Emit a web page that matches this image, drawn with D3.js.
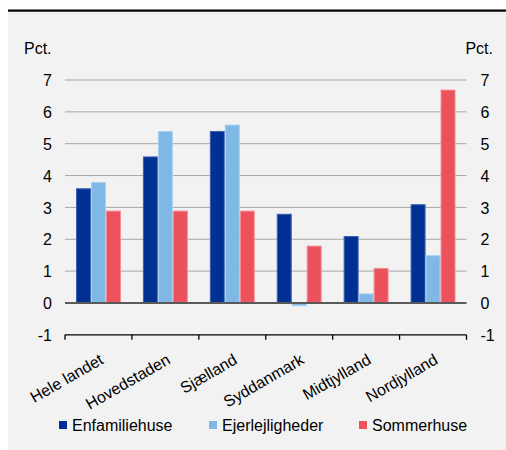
<!DOCTYPE html>
<html>
<head>
<meta charset="utf-8">
<script src="https://cdn.jsdelivr.net/npm/d3@7"></script>
<style>
  html, body { margin: 0; padding: 0; background: #ffffff; }
  svg { display: block; }
  text { font-family: "Liberation Sans", Arial, sans-serif; fill: #000; }
</style>
</head>
<body>
<svg id="chart" width="506" height="450"></svg>
<script>
// Regions and price changes (pct.) per property type
const categories = ["Hele landet", "Hovedstaden", "Sjælland", "Syddanmark", "Midtjylland", "Nordjylland"];
const seriesNames = ["Enfamiliehuse", "Ejerlejligheder", "Sommerhuse"];
const enfamiliehuse = [3.6, 4.6, 5.4, 2.8, 2.1, 3.1];
const ejerlejligheder = [3.8, 5.4, 5.6, -0.1, 0.3, 1.5];
const sommerhuse = [2.9, 2.9, 2.9, 1.8, 1.1, 6.7];
const yTicks = [-1, 0, 1, 2, 3, 4, 5, 6, 7];
const unitLabel = "Pct.";

const colors = ["#003192", "#7fb8e5", "#ec525b"];
const strokes = ["#3d5fb0", "#a9d0ef", "#f48d93"];
const series = [enfamiliehuse, ejerlejligheder, sommerhuse];
const FS = 16;

const svg = d3.select("#chart");

// panel background and top rule
svg.append("rect").attr("x", 8).attr("y", 10).attr("width", 498).attr("height", 440).attr("fill", "#f2f2f2");
svg.append("rect").attr("x", 8).attr("y", 9.5).attr("width", 498).attr("height", 2.2).attr("fill", "#000");

const left = 65, right = 466.5;
const y = d3.scaleLinear().domain([-1, 7]).range([334.8, 80]);
const x0 = d3.scaleBand().domain(categories).range([left, right]).paddingInner(0).paddingOuter(0);
const x1 = d3.scaleBand().domain(d3.range(3)).range([11, x0.bandwidth() - 11]).padding(0);

// gridlines
svg.append("g").selectAll("line")
  .data(yTicks.filter(t => t > 0))
  .join("line")
  .attr("x1", left).attr("x2", right)
  .attr("y1", d => y(d)).attr("y2", d => y(d))
  .attr("stroke", "#a6a6a6").attr("stroke-width", 1);

// left and right axes (labels only)
const fmt = d => String(d);
const yAxisL = d3.axisLeft(y).tickValues(yTicks).tickSize(0).tickPadding(13).tickFormat(fmt);
const gl = svg.append("g").attr("transform", `translate(${left},0)`).call(yAxisL);
gl.select(".domain").remove();
gl.selectAll("text").attr("font-size", FS).attr("font-family", "Liberation Sans, Arial, sans-serif").attr("dy", "0.35em");

const yAxisR = d3.axisRight(y).tickValues(yTicks).tickSize(0).tickPadding(14).tickFormat(fmt);
const gr = svg.append("g").attr("transform", `translate(${right},0)`).call(yAxisR);
gr.select(".domain").remove();
gr.selectAll("text").attr("font-size", FS).attr("font-family", "Liberation Sans, Arial, sans-serif").attr("dy", "0.35em");

svg.append("text").attr("x", 24).attr("y", 54).attr("font-size", FS).text(unitLabel);
svg.append("text").attr("x", 493).attr("y", 54).attr("font-size", FS).attr("text-anchor", "end").text(unitLabel);

// bars
const groups = svg.append("g").selectAll("g")
  .data(categories)
  .join("g")
  .attr("transform", d => `translate(${x0(d)},0)`);

groups.selectAll("rect")
  .data((d, i) => series.map((s, k) => ({ k, v: s[i] })))
  .join("rect")
  .attr("x", d => x1(d.k) + 0.5)
  .attr("width", x1.bandwidth() - 1)
  .attr("y", d => Math.min(y(d.v), y(0)) + 0.5)
  .attr("height", d => Math.max(Math.abs(y(d.v) - y(0)) - 1, 0.5))
  .attr("fill", d => colors[d.k])
  .attr("stroke", d => strokes[d.k])
  .attr("stroke-width", 1);

// zero line
svg.append("line").attr("x1", left).attr("x2", right)
  .attr("y1", y(0)).attr("y2", y(0))
  .attr("stroke", "#595959").attr("stroke-width", 2);

// category axis at the bottom of the value range
const gx = svg.append("g").attr("transform", `translate(0,${y(-1)})`);
gx.append("line").attr("x1", left).attr("x2", right).attr("y1", 0).attr("y2", 0)
  .attr("stroke", "#000").attr("stroke-width", 1.3);
gx.selectAll("line.tick")
  .data(categories.map(c => x0(c)).concat([right]))
  .join("line").attr("class", "tick")
  .attr("x1", d => d).attr("x2", d => d).attr("y1", 0).attr("y2", 5)
  .attr("stroke", "#000").attr("stroke-width", 1.3);

gx.selectAll("text.cat")
  .data(categories)
  .join("text").attr("class", "cat")
  .attr("text-anchor", "end")
  .attr("font-size", FS)
  .attr("transform", d => `translate(${x0(d) + x0.bandwidth() / 2 + 6},${28}) rotate(-30)`)
  .text(d => d);

// legend
const legendX = [59, 209, 359];
const lg = svg.append("g").selectAll("g").data(seriesNames).join("g")
  .attr("transform", (d, i) => `translate(${legendX[i]},421)`);
lg.append("rect").attr("width", 8).attr("height", 8).attr("fill", (d, i) => colors[i]);
lg.append("text").attr("x", 13).attr("y", 9.8).attr("font-size", FS).text(d => d);
</script>
</body>
</html>
